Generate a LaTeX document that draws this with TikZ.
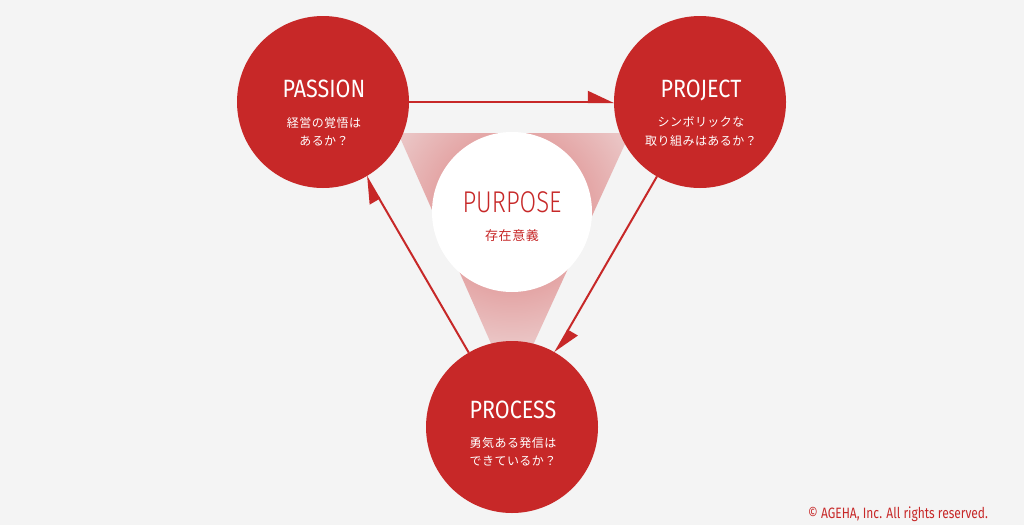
\documentclass[tikz,border=0pt]{standalone}
\usepackage{fontspec}
\setmainfont{Fira Sans}
\newfontfamily\titlefont{Fira Sans}[FakeStretch=0.86]
\newfontfamily\noticefont{Fira Sans}[FakeStretch=0.8]
\newfontfamily\lightfont{Fira Sans Light}[FakeStretch=0.8]
\newfontfamily\jpfont{Noto Sans CJK JP}[LetterSpace=4]
\usetikzlibrary{arrows.meta, shapes, calc, positioning}

\definecolor{agred}{RGB}{199,40,40}
\definecolor{bgc}{RGB}{244,244,244}
\definecolor{glowc}{RGB}{218,118,118}

\tikzset{
	every node/.style={
		inner sep=0pt,
		outer sep=0pt
	},
	theme/.style={
		shape=circle,
		fill=agred,
		minimum size=172pt
	},
	core/.style={
		shape=circle,
		fill=white,
		minimum size=160pt
	},
	title/.style={
		anchor=base,
		text=white,
		font=\titlefont\fontsize{25}{25}\selectfont
	},
	question/.style={
		anchor=base,
		text=white,
		font=\jpfont\fontsize{12}{12}\selectfont
	},
	cycle arrow/.style={
		draw=agred,
		line width=2pt,
		-{Triangle[harpoon, length=24pt, width=22pt]}
	}
}

\begin{document}
\begin{tikzpicture}[x=1pt,y=-1pt]
	\fill[bgc] (0,0) rectangle (1024,525);
	
	% glow behind the core
	\begin{scope}
		\clip (398,133) -- (630,133) -- (512,391) -- cycle;
		\shade[inner color=glowc, outer color=bgc] (512,212) circle (210pt);
	\end{scope}
	
	\node[theme] (passion) at (323,102) {};
	\node[theme] (project) at (700,102) {};
	\node[theme] (process) at (512,427) {};
	\node[core]  (purpose) at (512,212) {};
	
	\draw[cycle arrow] (passion) -- (project);
	\draw[cycle arrow] (project) -- (process);
	\draw[cycle arrow] (process) -- (passion);
	
	\node[title]    (passiontitle) at (324,97)    {PASSION};
	\node[question] (passionq1)    at (324,127.5) {経営の覚悟は};
	\node[question] (passionq2)    at (324,145.5) {あるか？};
	
	\node[title]    (projecttitle) at (701,97)    {PROJECT};
	\node[question] (projectq1)    at (701,126.5) {シンボリックな};
	\node[question] (projectq2)    at (701,145.5) {取り組みはあるか？};
	
	\node[title]    (processtitle) at (513,418)   {PROCESS};
	\node[question] (processq1)    at (513,447.5) {勇気ある発信は};
	\node[question] (processq2)    at (513,465.5) {できているか？};
	
	\node[title, text=agred, font=\lightfont\fontsize{30}{30}\selectfont] (purposetitle) at (512,212) {PURPOSE};
	\node[question, text=agred, font=\jpfont\fontsize{13}{13}\selectfont] (purposeq) at (512,240) {存在意義};
	
	\node[anchor=base east, text=agred, font=\noticefont\fontsize{15}{15}\selectfont] (rights) at (988,518) {© AGEHA, Inc. All rights reserved.};
\end{tikzpicture}
\end{document}
